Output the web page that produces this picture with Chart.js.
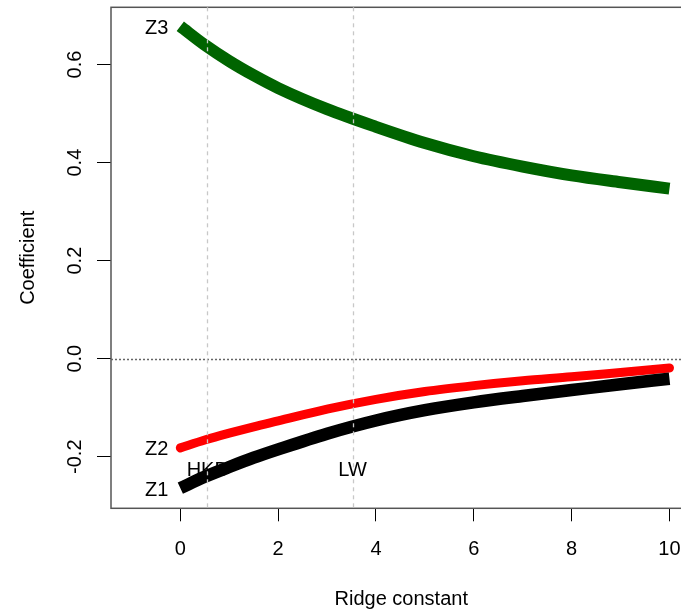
<!DOCTYPE html>
<html>
<head>
<meta charset="utf-8">
<script src="https://cdn.jsdelivr.net/npm/chart.js@4.4.1/dist/chart.umd.min.js"></script>
<style>
html,body{margin:0;padding:0;overflow:hidden;background:#fff;width:681px;height:610px}
#wrap{position:relative;width:720px;height:610px}
</style>
</head>
<body>
<div id="wrap"><canvas id="c" width="720" height="610"></canvas></div>
<script>
// ---- data ----
const ridgeK = [0, 0.5, 1, 1.5, 2, 3, 4, 5, 6, 7, 8, 9, 10];
const z1 = [-0.264, -0.241, -0.221, -0.202, -0.185, -0.153, -0.126, -0.105, -0.089, -0.076, -0.064, -0.052, -0.041];
const z2 = [-0.182, -0.166, -0.152, -0.139, -0.127, -0.103, -0.083, -0.067, -0.055, -0.045, -0.037, -0.028, -0.019];
const z3 = [0.678, 0.640, 0.607, 0.578, 0.552, 0.509, 0.473, 0.440, 0.413, 0.392, 0.374, 0.360, 0.347];
const seriesNames = ['Z1', 'Z2', 'Z3'];
const seriesColors = ['#000000', '#ff0000', '#006400'];
const refK = [0.55, 3.52];
const refLabels = ['HKB', 'LW'];
const refLabelY = -0.227;
const xTicks = [0, 2, 4, 6, 8, 10];
const yTicks = [-0.2, 0.0, 0.2, 0.4, 0.6];
const yTickLabels = ['-0.2', '0.0', '0.2', '0.4', '0.6'];

const FONT = "'Liberation Sans', Arial, Helvetica, sans-serif";
const seriesValues = [z1, z2, z3];
const widths = [12.5, 9, 12];
const caps = ['butt', 'round', 'butt'];

const datasets = seriesValues.map((vals, i) => ({
  label: seriesNames[i],
  data: ridgeK.map((k, j) => ({x: k, y: vals[j]})),
  borderColor: seriesColors[i],
  backgroundColor: seriesColors[i],
  borderWidth: widths[i],
  borderCapStyle: caps[i],
  borderJoinStyle: 'round',
  pointRadius: 0,
  cubicInterpolationMode: 'monotone',
  fill: false
}));

const overlay = {
  id: 'overlay',
  afterDatasetsDraw(chart) {
    const {ctx, chartArea: a, scales: {x, y}} = chart;
    ctx.save();
    // box
    ctx.strokeStyle = '#555';
    ctx.lineWidth = 1.5;
    ctx.strokeRect(a.left, a.top, a.right - a.left, a.bottom - a.top);
    // horizontal dotted zero line
    ctx.strokeStyle = '#666';
    ctx.lineWidth = 1.5;
    ctx.setLineDash([2, 2]);
    const y0 = Math.round(y.getPixelForValue(0)) + 0.5;
    ctx.beginPath(); ctx.moveTo(a.left, y0); ctx.lineTo(a.right, y0); ctx.stroke();
    // vertical dashed reference lines
    ctx.strokeStyle = '#c8c8c8';
    ctx.lineWidth = 1.3;
    ctx.setLineDash([4, 4]);
    refK.forEach(k => {
      const px = Math.round(x.getPixelForValue(k)) + 0.5;
      ctx.beginPath(); ctx.moveTo(px, a.top); ctx.lineTo(px, a.bottom); ctx.stroke();
    });
    ctx.setLineDash([]);
    ctx.fillStyle = '#000';
    ctx.font = '20px ' + FONT;
    // reference labels
    ctx.textAlign = 'center';
    ctx.textBaseline = 'middle';
    refK.forEach((k, i) => {
      ctx.fillText(refLabels[i], x.getPixelForValue(k), y.getPixelForValue(refLabelY) + 1);
    });
    // series labels at k = 0
    ctx.textAlign = 'right';
    seriesValues.forEach((vals, i) => {
      ctx.fillText(seriesNames[i], x.getPixelForValue(ridgeK[0]) - 12, y.getPixelForValue(vals[0]) + 2);
    });
    // rotated y tick labels
    ctx.textAlign = 'center';
    ctx.textBaseline = 'alphabetic';
    yTicks.forEach((v, i) => {
      ctx.save();
      ctx.translate(80.5, y.getPixelForValue(v));
      ctx.rotate(-Math.PI / 2);
      ctx.fillText(yTickLabels[i], 0, 0);
      ctx.restore();
    });
    ctx.restore();
  }
};

new Chart(document.getElementById('c'), {
  type: 'line',
  data: {datasets},
  plugins: [overlay],
  options: {
    responsive: false,
    animation: false,
    devicePixelRatio: 1,
    layout: {padding: {top: 7.3, right: 28.5, left: 0, bottom: 0}},
    plugins: {legend: {display: false}, tooltip: {enabled: false}},
    scales: {
      x: {
        type: 'linear',
        min: -1.417,
        max: 10.45,
        afterBuildTicks: s => { s.ticks = xTicks.map(v => ({value: v})); },
        afterFit: s => { s.height = 101.7; },
        border: {display: false},
        grid: {drawOnChartArea: false, drawTicks: true, tickLength: 13, color: '#000', lineWidth: 1},
        ticks: {padding: 16, color: '#000', font: {family: FONT, size: 20}, maxRotation: 0, autoSkip: false,
                callback: v => String(v)},
        title: {display: true, text: 'Ridge constant', color: '#000',
                font: {family: FONT, size: 20, lineHeight: 1}, padding: {top: 0, bottom: 1}}
      },
      y: {
        type: 'linear',
        min: -0.3052,
        max: 0.7168,
        afterBuildTicks: s => { s.ticks = yTicks.map(v => ({value: v})); },
        afterFit: s => { s.width = 111; },
        border: {display: false},
        grid: {drawOnChartArea: false, drawTicks: true, tickLength: 14, color: '#000', lineWidth: 1},
        ticks: {display: false},
        title: {display: true, text: 'Coefficient', color: '#000',
                font: {family: FONT, size: 20, lineHeight: 1}, padding: {top: 18, bottom: 0}}
      }
    }
  }
});
</script>
</body>
</html>
